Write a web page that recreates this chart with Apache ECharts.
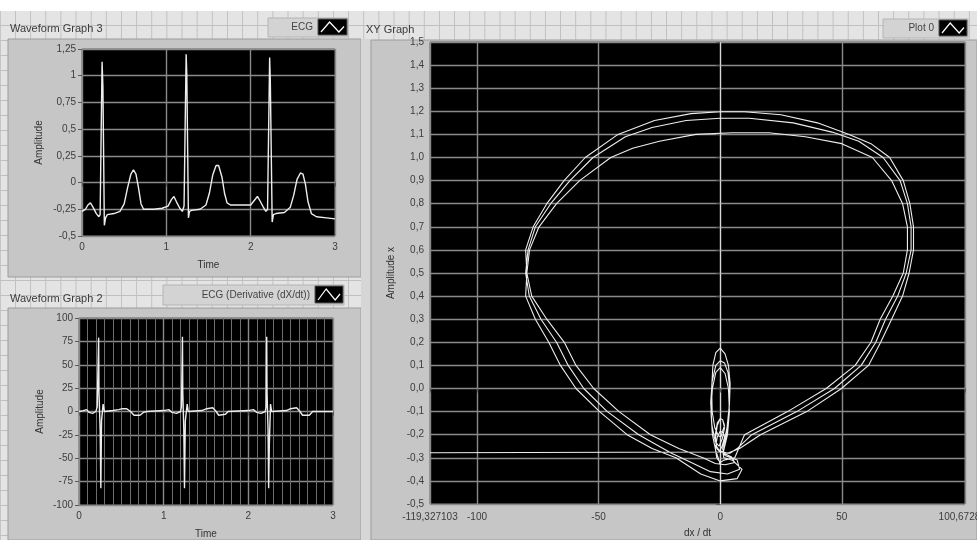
<!DOCTYPE html>
<html>
<head>
<meta charset="utf-8">
<title>ECG waveform and phase plot</title>
<script src="https://cdn.jsdelivr.net/npm/echarts@6/dist/echarts.min.js"></script>
<style>
  html, body { margin: 0; padding: 0; background: #ffffff; }
  #panel {
    position: absolute; left: 0; top: 11px; width: 977px; height: 529px;
    background-color: #e4e4e4;
    background-image:
      linear-gradient(to right, #c0c0c0 1px, transparent 1px),
      linear-gradient(to bottom, #c0c0c0 1px, transparent 1px);
    background-size: 15.15px 15px;
    background-position: 15px 14px;
  }
  #main { position: absolute; left: 0; top: 0; width: 977px; height: 540px; }
</style>
</head>
<body>
<div id="panel"></div>
<div id="main"></div>
<script>
// ECG amplitude over time: [time (s), amplitude]
const ecgSignal = [
  [0.00,-0.27],[0.04,-0.25],[0.07,-0.21],[0.10,-0.19],[0.13,-0.23],[0.17,-0.29],[0.20,-0.32],[0.215,-0.30],
  [0.238,1.13],[0.248,0.90],[0.265,-0.40],[0.28,-0.33],[0.30,-0.30],[0.38,-0.29],[0.45,-0.27],[0.50,-0.20],
  [0.54,-0.05],[0.58,0.08],[0.61,0.12],[0.64,0.08],[0.67,-0.05],[0.70,-0.20],[0.73,-0.25],[0.85,-0.25],
  [0.95,-0.24],[1.02,-0.22],[1.06,-0.16],[1.09,-0.13],[1.12,-0.18],[1.16,-0.24],[1.19,-0.27],[1.21,-0.22],
  [1.235,1.20],[1.243,1.00],[1.262,-0.33],[1.275,-0.27],[1.30,-0.26],[1.40,-0.25],[1.47,-0.21],[1.51,-0.10],
  [1.55,0.07],[1.59,0.16],[1.62,0.16],[1.66,0.05],[1.69,-0.10],[1.72,-0.19],[1.76,-0.21],[1.90,-0.21],
  [2.00,-0.21],[2.04,-0.17],[2.08,-0.13],[2.11,-0.17],[2.15,-0.23],[2.18,-0.27],[2.20,-0.25],[2.225,1.17],
  [2.233,0.95],[2.255,-0.37],[2.27,-0.30],[2.30,-0.29],[2.40,-0.28],[2.47,-0.23],[2.51,-0.12],[2.55,0.03],
  [2.59,0.09],[2.62,0.08],[2.65,-0.02],[2.68,-0.18],[2.72,-0.29],[2.78,-0.32],[2.90,-0.33],[3.00,-0.34]
];

// First derivative of the ECG: [time (s), dX/dt]
const ecgDerivative = [
  [0.00,0],[0.05,1],[0.09,2],[0.12,-1],[0.16,-2],[0.20,0],[0.215,5],[0.232,79],[0.236,20],[0.25,-20],
  [0.258,-82],[0.266,-10],[0.285,8],[0.30,0],[0.40,1],[0.47,2],[0.51,3],[0.56,3],[0.61,0],[0.65,-4],
  [0.72,-4],[0.76,-1],[0.80,0],[1.00,1],[1.06,2],[1.10,-1],[1.15,-2],[1.20,0],[1.21,5],[1.222,80],
  [1.226,20],[1.238,-20],[1.246,-82],[1.256,-10],[1.278,8],[1.29,0],[1.45,1],[1.51,3],[1.58,4],[1.62,0],
  [1.65,-4],[1.73,-3],[1.76,0],[2.00,1],[2.06,2],[2.10,-1],[2.15,-2],[2.20,0],[2.21,5],[2.217,80],
  [2.221,20],[2.233,-20],[2.240,-82],[2.248,-35],[2.262,8],[2.275,0],[2.45,1],[2.50,3],[2.57,4],[2.61,0],
  [2.64,-4],[2.72,-4],[2.76,0],[3.00,0]
];

// Phase plot, dX/dt against X, traced beat by beat: [dX/dt, X]
const phaseStart = [[-119.327103,-0.278],[-0.5,-0.275],[0,-0.27]];
const phaseBeat1 = [
  [0.8,-0.25],[1.8,-0.21],[1.2,-0.19],[0,-0.185],[-1.2,-0.21],[-2,-0.26],[-1.4,-0.30],[0,-0.32],[1.5,-0.31],
  [6,-0.3],[10,-0.2],[27.7,-0.1],[43.6,0],[55.5,0.1],[62,0.2],[65.8,0.3],[71,0.4],[75.3,0.5],[77,0.6],
  [77,0.7],[75,0.8],[70.5,0.9],[62.6,1.0],[50,1.06],[35,1.09],[20,1.107],[5,1.107],[-10,1.1],[-25,1.07],
  [-36,1.04],[-45,1.0],[-57.8,0.9],[-67.3,0.8],[-74.5,0.7],[-78.4,0.6],[-79.5,0.5],[-80,0.4],[-76,0.3],
  [-70.5,0.2],[-65.7,0.1],[-59.3,0],[-49.6,-0.1],[-38.3,-0.2],[-28,-0.26],[-18.2,-0.3],[-8,-0.37],[0,-0.4],
  [7,-0.39],[9,-0.35],[5,-0.31],[1.5,-0.3],
  [1.2,-0.28],[2.6,-0.2],[3.6,-0.1],[3.9,0],[3.2,0.07],[1.8,0.11],[0,0.12],[-1.8,0.1],[-3.3,0.03],
  [-3.9,-0.06],[-3.4,-0.16],[-2,-0.23],[-0.5,-0.25],[0.3,-0.245]
];
const phaseBeat2 = [
  [0.8,-0.22],[1.8,-0.17],[1,-0.135],[0,-0.13],[-1.2,-0.15],[-2,-0.2],[-1.5,-0.25],[-0.3,-0.27],
  [3,-0.28],[8,-0.26],[16.6,-0.2],[35.6,-0.1],[49.9,0],[61,0.1],[66,0.2],[70.5,0.3],[75,0.4],[77.7,0.5],
  [79.5,0.6],[79.5,0.7],[78,0.8],[75.3,0.9],[69.7,1.0],[62,1.06],[53,1.1],[40,1.15],[25,1.185],[10,1.198],
  [0,1.198],[-12,1.19],[-27,1.16],[-42,1.1],[-55.5,1.0],[-64.2,0.9],[-71.3,0.8],[-76.9,0.7],[-80,0.6],
  [-79.5,0.5],[-77.5,0.4],[-71.3,0.3],[-64.1,0.2],[-59.3,0.1],[-52,0],[-41.6,-0.1],[-28.7,-0.2],[-17,-0.26],
  [-7.1,-0.3],[-2,-0.325],[2,-0.33],[6,-0.32],[4.5,-0.295],[1.5,-0.28],
  [1,-0.26],[2.8,-0.17],[3.8,-0.07],[4.1,0.02],[3.4,0.1],[2,0.15],[0,0.175],[-1.8,0.155],[-3,0.1],
  [-3.5,0],[-3.3,-0.1],[-2.2,-0.17],[-0.7,-0.205],[0.3,-0.21]
];
const phaseBeat3 = [
  [0.8,-0.19],[1.8,-0.16],[1,-0.135],[0,-0.13],[-1.2,-0.16],[-2,-0.22],[-1.4,-0.26],[0,-0.275],
  [4,-0.28],[7,-0.26],[13,-0.2],[31.5,-0.1],[47,0],[58,0.1],[64,0.2],[68,0.3],[73,0.4],[76.5,0.5],
  [78.5,0.6],[78.5,0.7],[77,0.8],[74,0.9],[67,1.0],[57,1.07],[46,1.11],[30,1.15],[12,1.17],[0,1.17],
  [-14,1.16],[-28,1.13],[-39,1.09],[-52.3,1.0],[-61.8,0.9],[-69.7,0.8],[-76,0.7],[-79,0.6],[-80,0.5],
  [-78.5,0.4],[-73.7,0.3],[-67.3,0.2],[-62.5,0.1],[-56.1,0],[-46.4,-0.1],[-33.5,-0.2],[-20,-0.28],
  [-11.9,-0.32],[-4,-0.36],[3,-0.37],[8,-0.35],[7,-0.31],[2,-0.29],
  [1.2,-0.28],[3,-0.2],[3.8,-0.1],[3.4,0],[2,0.065],[0,0.09],[-1.8,0.07],[-3.2,0],[-3.8,-0.1],
  [-3.2,-0.2],[-1.8,-0.27],[-0.5,-0.31],[0,-0.33]
];

// Tick positions of the phase plot's horizontal scale
const phaseXTicks = [-119.327103, -100, -50, 0, 50, 100.672897];

const phaseTrace = phaseStart.concat(phaseBeat1, phaseBeat2, phaseBeat3);

const FONT = 'Liberation Sans';
const labelColor = '#3c3c3c';
const gridColor = '#8a8a8a';
const traceColor = '#ededed';
const comma = v => String(+Number(v).toFixed(6)).replace('.', ',');

function valueAxis(extra) {
  return Object.assign({
    type: 'value',
    axisLine: { show: false },
    axisTick: { show: true, length: 4, lineStyle: { color: '#5a5a5a' } },
    axisLabel: { color: labelColor, fontSize: 10, fontFamily: FONT, margin: 6, formatter: comma },
    splitLine: { show: true, lineStyle: { color: gridColor, width: 1.4 } },
    nameTextStyle: { color: '#333', fontSize: 10, fontFamily: FONT },
    nameLocation: 'middle'
  }, extra);
}

const chart = echarts.init(document.getElementById('main'), null, { renderer: 'canvas' });

// Graph frames, captions and plot legends
function legendBox(x, y, w, h, label, iconX, iconW) {
  return [
    { type: 'rect', z: -5, shape: { x: x, y: y, width: w, height: h },
      style: { fill: '#d3d3d3', stroke: '#b4b4b4', lineWidth: 1 } },
    { type: 'text', z: 5, x: iconX - 5, y: y + h / 2,
      style: { text: label, fill: '#444', fontSize: 10, fontFamily: FONT, align: 'right', verticalAlign: 'middle' } },
    { type: 'rect', z: 5, shape: { x: iconX, y: y + 1, width: iconW, height: h - 3 },
      style: { fill: '#000', stroke: '#555', lineWidth: 1 } },
    { type: 'polyline', z: 6,
      shape: { points: [[iconX + 3, y + h - 5], [iconX + iconW * 0.4, y + 4], [iconX + iconW * 0.72, y + h - 5], [iconX + iconW - 3, y + h / 2 - 1]] },
      style: { stroke: '#ffffff', lineWidth: 1.2, fill: null } }
  ];
}

const frames = [
  { type: 'rect', z: -10, shape: { x: 8, y: 39, width: 353, height: 238 }, style: { fill: '#c6c6c6', stroke: '#9c9c9c', lineWidth: 1 } },
  { type: 'rect', z: -10, shape: { x: 8, y: 308, width: 353, height: 232 }, style: { fill: '#c6c6c6', stroke: '#9c9c9c', lineWidth: 1 } },
  { type: 'rect', z: -10, shape: { x: 361, y: 39, width: 10, height: 501 }, style: { fill: '#d6d6d6' } },
  { type: 'rect', z: -10, shape: { x: 371, y: 40, width: 606, height: 500 }, style: { fill: '#c6c6c6', stroke: '#9c9c9c', lineWidth: 1 } },
  { type: 'text', z: 5, x: 10, y: 29, style: { text: 'Waveform Graph 3', fill: '#3a3a3a', fontSize: 11, fontFamily: FONT, verticalAlign: 'middle' } },
  { type: 'text', z: 5, x: 10, y: 299, style: { text: 'Waveform Graph 2', fill: '#3a3a3a', fontSize: 11, fontFamily: FONT, verticalAlign: 'middle' } },
  { type: 'text', z: 5, x: 366, y: 30, style: { text: 'XY Graph', fill: '#3a3a3a', fontSize: 11, fontFamily: FONT, verticalAlign: 'middle' } }
].concat(
  legendBox(268, 18, 80, 19, 'ECG', 318, 29),
  legendBox(163, 285, 181, 20, 'ECG (Derivative (dX/dt))', 315, 28),
  legendBox(883, 19, 85, 19, 'Plot 0', 939, 28)
);

const gridBase = { show: true, backgroundColor: '#000', borderColor: '#666', borderWidth: 1,
  containLabel: false, outerBoundsMode: 'none' };

chart.setOption({
  backgroundColor: 'transparent',
  animation: false,
  graphic: { elements: frames },
  grid: [
    Object.assign({ left: 82, top: 49, width: 253, height: 187 }, gridBase),
    Object.assign({ left: 79, top: 318, width: 254, height: 187 }, gridBase),
    Object.assign({ left: 430, top: 42, width: 535, height: 462 }, gridBase)
  ],
  xAxis: [
    valueAxis({ gridIndex: 0, min: 0, max: 3, interval: 1, name: 'Time', nameGap: 24 }),
    valueAxis({ gridIndex: 1, min: 0, max: 3, interval: 1, name: 'Time', nameGap: 24,
      minorTick: { show: false, splitNumber: 10 },
      minorSplitLine: { show: true, lineStyle: { color: '#6e6e6e', width: 1 } } }),
    valueAxis({ gridIndex: 2, min: phaseXTicks[0], max: phaseXTicks[phaseXTicks.length - 1],
      name: 'dx / dt', nameGap: 24,
      axisTick: { show: true, length: 4, lineStyle: { color: '#5a5a5a' }, customValues: phaseXTicks },
      axisLabel: { color: labelColor, fontSize: 10, fontFamily: FONT, margin: 8, formatter: comma, customValues: phaseXTicks },
      splitLine: { show: true, lineStyle: { color: [gridColor, gridColor, gridColor, '#d8d8d8', gridColor, gridColor], width: 1.4 } } })
  ],
  yAxis: [
    valueAxis({ gridIndex: 0, min: -0.5, max: 1.25, interval: 0.25, name: 'Amplitude', nameGap: 38 }),
    valueAxis({ gridIndex: 1, min: -100, max: 100, interval: 25, name: 'Amplitude', nameGap: 34 }),
    valueAxis({ gridIndex: 2, min: -0.5, max: 1.5, interval: 0.1, name: 'Amplitude x', nameGap: 30,
      axisLabel: { color: labelColor, fontSize: 10, fontFamily: FONT, margin: 6,
        formatter: v => Number(v).toFixed(1).replace('.', ',') } })
  ],
  series: [
    { type: 'line', name: 'ECG', xAxisIndex: 0, yAxisIndex: 0, data: ecgSignal, showSymbol: false,
      lineStyle: { color: traceColor, width: 1.4 } },
    { type: 'line', name: 'ECG (Derivative (dX/dt))', xAxisIndex: 1, yAxisIndex: 1, data: ecgDerivative, showSymbol: false,
      lineStyle: { color: traceColor, width: 1.4 } },
    { type: 'line', name: 'Plot 0', xAxisIndex: 2, yAxisIndex: 2, data: phaseTrace, showSymbol: false,
      lineStyle: { color: traceColor, width: 1.1 } }
  ]
});
</script>
</body>
</html>
